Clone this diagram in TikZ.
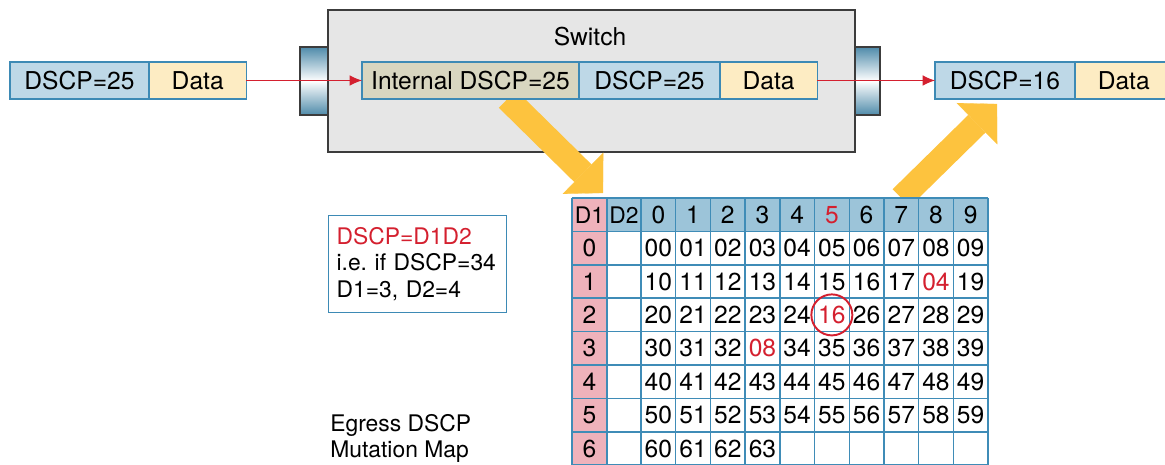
\documentclass[tikz,border=0pt]{standalone}
\usepackage{fontspec}
\setmainfont{TeX Gyre Heros}
\usetikzlibrary{positioning,arrows.meta}
\pgfdeclarelayer{back}
\pgfdeclarelayer{mid}
\pgfsetlayers{back,mid,main}
\definecolor{pktline}{HTML}{3D8AB5}
\definecolor{dscpblue}{HTML}{BED8E7}
\definecolor{datayellow}{HTML}{FDECC3}
\definecolor{internfill}{HTML}{D8D6C0}
\definecolor{switchfill}{HTML}{E6E6E6}
\definecolor{switchline}{HTML}{3C3C3C}
\definecolor{portblue}{HTML}{4F8BAA}
\definecolor{mapred}{HTML}{D4202F}
\definecolor{arrowyellow}{HTML}{FDC33E}
\definecolor{headblue}{HTML}{9CC4D9}
\definecolor{d1pink}{HTML}{EFB2BB}
\definecolor{gridblue}{HTML}{3F8CB7}
\tikzset{>={Latex[length=7pt,width=6pt]}}
\tikzset{
  pkt/.style={draw=pktline, line width=0.7pt, minimum height=0.74cm, inner sep=0pt, outer sep=0pt, font=\fontsize{14}{16}\selectfont},
  dscpbox/.style={pkt, fill=dscpblue},
  databox/.style={pkt, fill=datayellow, minimum width=1.95cm},
  intbox/.style={pkt, fill=internfill},
  port/.style={draw=switchline, line width=0.7pt, top color=portblue, bottom color=portblue, middle color=white},
  redline/.style={draw=mapred, line width=0.6pt, ->},
  maparrow/.style={draw=arrowyellow, line width=14pt, -{Triangle[length=16pt,width=33pt,line width=0.1pt]}},
  mapgrid/.style={draw=gridblue, line width=0.8pt},
  cell/.style={inner sep=0pt, font=\fontsize{14}{16}\selectfont},
  note/.style={font=\fontsize{13}{15}\selectfont, align=left}
}

\begin{document}
\begin{tikzpicture}[x=0.02cm,y=-0.02cm]
    \useasboundingbox (0,0) rectangle (1165,465);
    \clip (0,0) rectangle (1165,465);
    \node[dscpbox, minimum width=2.78cm, anchor=west] (indscp) at (10,80.5) {DSCP=25};
    \node[databox, right=0pt of indscp] (indata) {Data};
    \node[intbox, minimum width=4.34cm, anchor=west] (intdscp) at (362,80.5) {Internal DSCP=25};
    \node[dscpbox, minimum width=2.82cm, right=0pt of intdscp] (swdscp) {DSCP=25};
    \node[databox, right=0pt of swdscp] (swdata) {Data};
    \node[dscpbox, minimum width=2.8cm, anchor=west] (outdscp) at (935,80.5) {DSCP=16};
    \node[databox, right=0pt of outdscp] (outdata) {Data};
    \node[font=\fontsize{14}{16}\selectfont] (swname) at (590,37) {Switch};
    \begin{pgfonlayer}{back}
        \draw[port] (300,47) rectangle (328,115);
        \draw[port] (855,47) rectangle (880,115);
        \draw[draw=switchline, fill=switchfill, line width=0.8pt] (328,10) rectangle (855,152);
    \end{pgfonlayer}
    \draw[redline] (indata) -- (intdscp);
    \draw[redline] (swdata) -- (outdscp);

    \node[note, draw=pktline, line width=0.7pt, anchor=north west, minimum height=1.94cm, inner xsep=0.16cm, text width=3.24cm] (legend) at (328,215)
        {\textcolor{mapred}{DSCP=D1D2}\\i.e.\ if DSCP=34\\D1=3, D2=4};
    \node[note, anchor=west, inner sep=0pt] (mapname) at (330,438.5) {Egress DSCP\\Mutation Map};

    \coordinate (maptl) at (572,198);
    \fill[d1pink] (maptl) rectangle (607,465);
    \fill[headblue] (607,198) rectangle (988,231.4);
    \foreach \k in {0,...,8}
        \draw[mapgrid] (572,{198+33.4*\k}) -- (988,{198+33.4*\k});
    \draw[mapgrid] (572,198) -- (572,465);
    \draw[mapgrid] (607,198) -- (607,465);
    \foreach \c in {0,...,10}
        \draw[mapgrid] ({641+34.7*\c},198) -- ({641+34.7*\c},465);
    \node[cell, font=\fontsize{13}{15}\selectfont] (hd1) at (589.5,214.7) {D1};
    \node[cell, font=\fontsize{13}{15}\selectfont] (hd2) at (624,214.7) {D2};
    \foreach \c in {0,...,9}{
        \def\tc{black}\ifnum\c=5 \def\tc{mapred}\fi
        \node[cell, text=\tc] (h\c) at ({658.35+34.7*\c},214.7) {\c};
    }
    \foreach \r in {0,...,6}{
        \node[cell] (d\r) at (589.5,{248.1+33.4*\r}) {\r};
        \foreach \c in {0,...,9}{
            \def\val{\r\c}\def\tc{black}
            \ifnum\r\c=18 \def\val{04}\def\tc{mapred}\fi
            \ifnum\r\c=25 \def\val{16}\def\tc{mapred}\fi
            \ifnum\r\c=33 \def\val{08}\def\tc{mapred}\fi
            \ifnum\r\c<64 \node[cell, text=\tc] (m\r\c) at ({658.35+34.7*\c},{248.1+33.4*\r}) {\val};\fi
        }
    }
    \draw[mapred, line width=1.1pt] (m25) circle (0.41cm);

    \coordinate (mapin) at ([xshift=0.74cm]intdscp.south);
    \coordinate (maptip) at ([xshift=0.62cm,yshift=0.1cm]maptl);
    \coordinate (outtip) at ([xshift=-0.16cm,yshift=-0.1cm]outdscp.south);
    \begin{pgfonlayer}{mid}
        \draw[maparrow] (mapin) -- (maptip);
        \draw[maparrow] (h7 |- maptl) -- (outtip);
    \end{pgfonlayer}
\end{tikzpicture}
\end{document}
